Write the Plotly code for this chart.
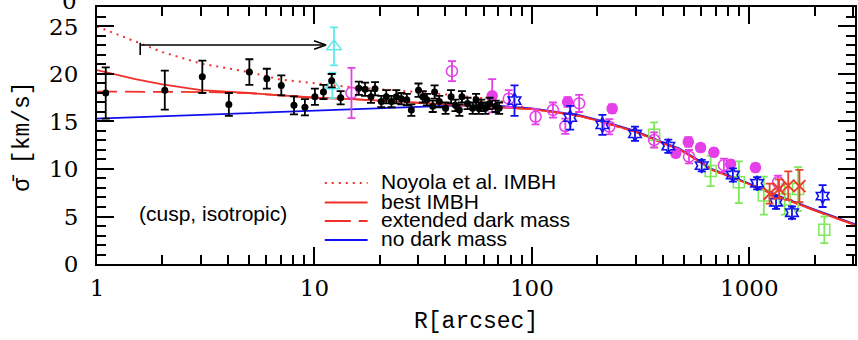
import numpy as np
import plotly.graph_objects as go

# ---------------- data ----------------
# model curves (R in arcsec, sigma in km/s)
curve_R = [1, 1.5, 2, 3, 5, 7, 10, 15, 20, 30, 40, 57, 70, 100, 134, 165, 207, 301,
           414, 475, 587, 675, 961, 1365, 1942, 3070]
outer_sigma = [16.3, 15.9, 15.6, 15.0, 13.9, 12.6, 12.1, 10.8, 9.9, 8.55, 7.1, 5.75, 4.1]
noyola_sigma = [25.0, 23.4, 22.3, 21.1, 20.2, 19.4, 19.0, 18.6, 18.4, 18.1, 17.85, 17.5, 17.2] + outer_sigma
best_sigma = [20.4, 19.45, 18.9, 18.3, 18.0, 17.75, 17.5, 17.35, 17.2, 16.95, 16.8, 16.65, 16.55] + outer_sigma
ext_sigma = [18.15, 18.15, 18.15, 18.1, 17.98, 17.75, 17.5, 17.35, 17.2, 16.95, 16.8, 16.65, 16.55] + outer_sigma
nodark_sigma = [15.3, 15.45, 15.55, 15.7, 15.9, 16.05, 16.2, 16.35, 16.45, 16.55, 16.65, 16.7, 16.65,
                16.38, 15.98, 15.68, 15.08, 13.98, 12.68, 12.18, 10.88, 9.98, 8.63, 7.18, 5.83, 4.18]

# black points
blk_R = [1.097, 2.05, 3.05, 4.04, 5.02, 6.04, 7.04, 8.05, 9.04, 10.05, 11.0, 12.0, 13.2,
         16.0, 17.1, 18.2, 19.0, 20.3, 21.4, 22.6, 23.8, 25.1, 26.6, 27.9, 30.1, 31.5, 32.9,
         35.0, 35.7, 37.5, 40.1, 42.5, 44.5, 46.4, 47.7, 50.6, 53.4, 55.4, 57.0, 58.5, 61.2,
         63.9, 68.1, 70.7]
blk_sigma = [18.0, 18.3, 19.7, 16.8, 20.2, 19.5, 18.8, 16.7, 16.5, 17.6, 18.1, 19.3, 17.5,
             18.5, 18.4, 17.6, 18.45, 17.1, 17.6, 17.1, 17.6, 17.4, 17.3, 16.2, 18.3, 17.6, 17.3,
             16.6, 18.1, 17.1, 16.4, 17.6, 16.7, 16.2, 17.6, 16.9, 16.4, 17.3, 16.4, 16.7, 16.4,
             16.9, 16.6, 16.4]
blk_err = [2.7, 2.05, 1.7, 1.2, 1.35, 1.05, 1.05, 0.95, 0.85, 0.85, 0.75, 0.7, 0.7,
           0.7, 0.7, 0.65, 0.7, 0.6, 0.7, 0.6, 0.7, 0.6, 0.6, 0.6, 0.7, 0.6, 0.6,
           0.6, 0.7, 0.6, 0.6, 0.7, 0.6, 0.6, 0.6, 0.6, 0.6, 0.6, 0.6, 0.6, 0.6,
           0.6, 0.6, 0.6]

# magenta open circles
mo_R = [14.8, 42.9, 78.3, 104, 125, 142.5, 165, 227, 365, 528, 764, 1356]
mo_sigma = [18.0, 20.3, 17.4, 15.5, 16.2, 14.5, 16.9, 14.45, 13.05, 11.3, 10.4, 8.6]
mo_err = [2.65, 1.05, 0.9, 0.8, 0.8, 0.8, 0.9, 0.8, 0.8, 0.7, 0.7, 0.7]

# magenta filled circles
mf_R = [65.7, 146, 234, 459, 524, 597, 687, 820, 1067]
mf_sigma = [17.7, 17.05, 16.35, 11.65, 12.85, 12.25, 11.75, 10.5, 10.15]
mf_err = [1.75, 0.5, 0.45, 0.4, 0.5, 0.4, 0.4, 0.4, 0.4]

# blue stars
bs_R = [83.2, 150, 211, 298, 424, 604, 840, 1086, 1327, 1571, 2173]
bs_sigma = [17.2, 15.4, 14.65, 13.7, 12.4, 10.35, 9.37, 8.5, 6.5, 5.4, 7.15]
bs_err = [1.6, 1.25, 1.05, 0.75, 0.7, 0.6, 0.7, 0.65, 0.7, 0.65, 1.15]

# green squares
gs_R = [365, 664, 895, 1166, 1455, 1675, 2213]
gs_sigma = [13.6, 9.8, 8.6, 7.2, 6.8, 7.9, 3.6]
gs_err = [1.3, 1.6, 2.2, 2.0, 1.6, 2.3, 1.4]

# red crosses
rc_R = [1240, 1370, 1510, 1700]
rc_sigma = [7.4, 7.9, 8.25, 8.2]
rc_err = [1.05, 1.0, 1.5, 1.7]

# cyan triangles
ct_R = [12.3, 12.1]
ct_sigma = [22.9, 18.8]
ct_err = [2.0, 1.35]

# arrow (shift of the Noyola centre)
arrow_R = [1.58, 11.3]
arrow_sigma = 23.05
arrow_bar = [23.3, 22.0]

legend_labels = ["Noyola et al. IMBH", "best IMBH", "extended dark mass", "no dark mass"]

# ---------------- styles ----------------
RED = "#f2302a"
BLUE = "#1010f0"
MAG = "#e53fe8"
GRN = "#7ee85a"
CYN = "#5fe9ec"
XRED = "#e8402a"

fig = go.Figure()

# curves
fig.add_trace(go.Scatter(x=curve_R, y=nodark_sigma, mode="lines",
                         line=dict(color=BLUE, width=1.8), showlegend=False))
fig.add_trace(go.Scatter(x=curve_R, y=noyola_sigma, mode="lines",
                         line=dict(color=RED, width=2, dash="2px,5px"), showlegend=False))
fig.add_trace(go.Scatter(x=curve_R, y=ext_sigma, mode="lines",
                         line=dict(color=RED, width=1.8, dash="20px,8px"), showlegend=False))
fig.add_trace(go.Scatter(x=curve_R, y=best_sigma, mode="lines",
                         line=dict(color=RED, width=1.8), showlegend=False))


def pts(x, y, e, sym, color, size, lw=1.5, ecol=None, cap=4):
    fig.add_trace(go.Scatter(
        x=x, y=y, mode="markers",
        marker=dict(symbol=sym, color=color, size=size, line=dict(color=color, width=lw)),
        error_y=dict(type="data", array=e, visible=True, color=ecol or color,
                     thickness=1.8, width=cap),
        showlegend=False))


pts(gs_R, gs_sigma, gs_err, "square-open", GRN, 11)
pts(mo_R, mo_sigma, mo_err, "circle-open", MAG, 11)
pts(mf_R, mf_sigma, mf_err, "circle", MAG, 10)
pts(bs_R, bs_sigma, bs_err, "hexagram-open", BLUE, 11, lw=1.6)
pts(rc_R, rc_sigma, rc_err, "x-thin-open", XRED, 12, lw=2)
pts(ct_R, ct_sigma, ct_err, "triangle-up-open", CYN, 13)
pts(blk_R, blk_sigma, blk_err, "circle", "black", 7, lw=0)

# arrow
fig.add_trace(go.Scatter(x=arrow_R, y=[arrow_sigma, arrow_sigma], mode="lines",
                         line=dict(color="black", width=1.6), showlegend=False))
fig.add_trace(go.Scatter(x=[arrow_R[0], arrow_R[0]], y=arrow_bar, mode="lines",
                         line=dict(color="black", width=1.6), showlegend=False))
tip = arrow_R[1]
fig.add_trace(go.Scatter(x=[tip / 1.135, tip, tip / 1.135],
                         y=[arrow_sigma + 0.45, arrow_sigma, arrow_sigma - 0.45], mode="lines",
                         line=dict(color="black", width=1.6), showlegend=False))

# ---------------- layout ----------------
L, R_, T, B = 96.5, 1, 7, 76
W, H = 858, 340
pw, ph = W - L - R_, H - T - B


def px(x):
    return (x - L) / pw


def py(y):
    return (H - B - y) / ph


minor_x = [m * 10 ** d for d in range(0, 4) for m in range(2, 10)]

fig.update_layout(
    width=W, height=H,
    margin=dict(l=L, r=R_, t=T, b=B),
    paper_bgcolor="white", plot_bgcolor="white",
    showlegend=False,
    xaxis=dict(type="log", range=[0, np.log10(3062)],
               tickvals=[1, 10, 100, 1000], ticktext=["1", "10", "100", "1000"],
               ticks="inside", ticklen=17, tickwidth=1.5, tickcolor="black",
               showline=True, linewidth=2, linecolor="black", mirror="allticks",
               showgrid=False, zeroline=False,
               ticklabelstandoff=2,
               tickfont=dict(family="DejaVu Serif", size=23, color="black"),
               minor=dict(tickvals=minor_x, ticks="inside", ticklen=9, tickwidth=1.5,
                          tickcolor="black", showgrid=False)),
    yaxis=dict(range=[0, 27.05], tick0=0, dtick=5,
               ticks="inside", ticklen=17, tickwidth=1.5, tickcolor="black",
               showline=True, linewidth=2, linecolor="black", mirror="allticks",
               showgrid=False, zeroline=False,
               ticklabelstandoff=12,
               tickfont=dict(family="DejaVu Serif", size=23, color="black"),
               minor=dict(dtick=1, ticks="inside", ticklen=9, tickwidth=1.5,
                          tickcolor="black", showgrid=False)),
)

ann = []
ann.append(dict(text="R[arcsec]", xref="paper", yref="paper", x=px(477), y=py(322),
                xanchor="center", yanchor="middle", showarrow=False,
                font=dict(family="Liberation Mono", size=23, color="black")))
ann.append(dict(text="σ\u0304 [km/s]", xref="paper", yref="paper", x=px(22), y=py(137),
                xanchor="center", yanchor="middle", showarrow=False, textangle=-90,
                font=dict(family="Liberation Mono", size=23, color="black")))
ann.append(dict(text="0", xref="paper", yref="paper", x=px(78), y=py(1),
                xanchor="right", yanchor="middle", showarrow=False,
                font=dict(family="DejaVu Serif", size=23, color="black")))
ann.append(dict(text="(cusp, isotropic)", xref="paper", yref="paper", x=px(213), y=py(213),
                xanchor="center", yanchor="middle", showarrow=False,
                font=dict(family="Liberation Sans", size=21, color="black")))

leg_line_y = [183, 202.5, 221, 240]
leg_text_y = [181.7, 201.2, 220, 238.5]
leg_styles = [dict(color=RED, width=2, dash="2px,5px"), dict(color=RED, width=1.8),
              dict(color=RED, width=1.8, dash="26px,8px"), dict(color=BLUE, width=1.8)]
shapes = []
for lab, ly, ty, st in zip(legend_labels, leg_line_y, leg_text_y, leg_styles):
    shapes.append(dict(type="line", xref="paper", yref="paper", x0=px(325), x1=px(368),
                       y0=py(ly), y1=py(ly), line=st))
    ann.append(dict(text=lab, xref="paper", yref="paper", x=px(379), y=py(ty),
                    xanchor="left", yanchor="middle", showarrow=False,
                    font=dict(family="Liberation Sans", size=21, color="black")))

fig.update_layout(annotations=ann, shapes=shapes)

fig.write_html("out.html")
